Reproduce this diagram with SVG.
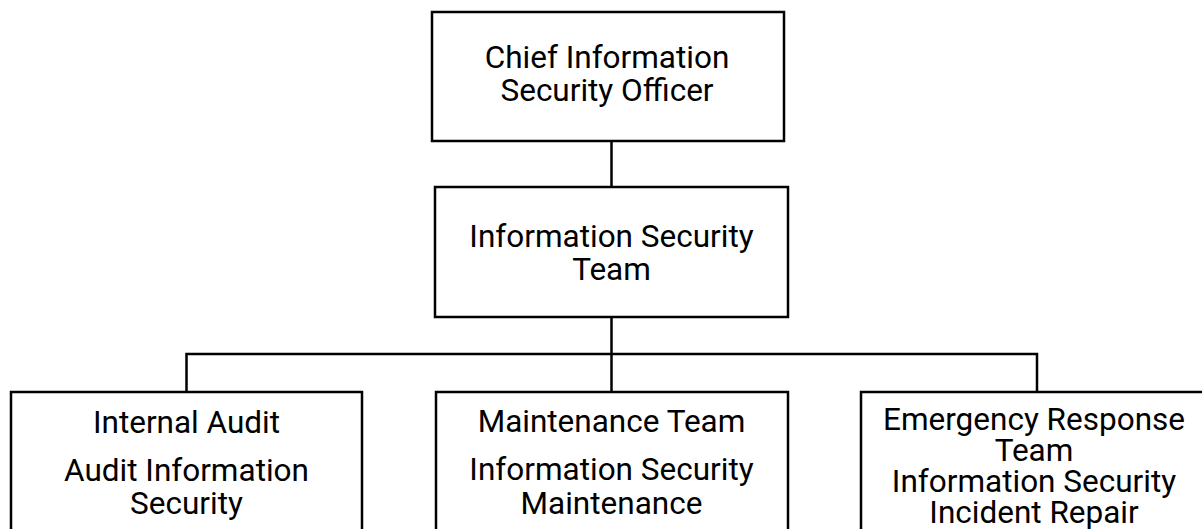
<svg xmlns="http://www.w3.org/2000/svg" width="1202" height="529" viewBox="0 0 1202 529">
  <style>
    .box { fill: #ffffff; stroke: #000000; stroke-width: 2.5; }
    .link { fill: none; stroke: #000000; stroke-width: 2.5; }
    text { font-family: Roboto, "Liberation Sans", sans-serif; font-size: 31.5px; fill: #000000; text-anchor: middle; }
  </style>
  <rect width="1202" height="529" fill="#ffffff"/>

  <!-- connectors -->
  <g id="connectors">
    <path class="link" d="M611.5 141 V187"/>
    <path class="link" d="M611.5 317 V354"/>
    <path class="link" d="M186.5 392 V354 H1037 V392"/>
    <path class="link" d="M611.5 354 V392"/>
  </g>

  <!-- top: CISO -->
  <g id="ciso">
    <rect class="box" x="432" y="12" width="352" height="129"/>
    <text x="607" y="68">Chief Information</text>
    <text x="607" y="101">Security Officer</text>
  </g>

  <!-- information security team -->
  <g id="infosec-team">
    <rect class="box" x="435" y="187" width="353" height="130"/>
    <text x="611.5" y="247">Information Security</text>
    <text x="611.5" y="280">Team</text>
  </g>

  <!-- internal audit -->
  <g id="internal-audit">
    <rect class="box" x="11" y="392" width="351" height="150"/>
    <text x="186.5" y="433">Internal Audit</text>
    <text x="186.5" y="481">Audit Information</text>
    <text x="186.5" y="514">Security</text>
  </g>

  <!-- maintenance team -->
  <g id="maintenance-team">
    <rect class="box" x="436" y="392" width="352" height="150"/>
    <text x="611.5" y="432">Maintenance Team</text>
    <text x="611.5" y="480">Information Security</text>
    <text x="611.5" y="514">Maintenance</text>
  </g>

  <!-- emergency response team -->
  <g id="emergency-response">
    <rect class="box" x="861" y="392" width="352" height="150"/>
    <text x="1034" y="430">Emergency Response</text>
    <text x="1034" y="461">Team</text>
    <text x="1034" y="492">Information Security</text>
    <text x="1034" y="523">Incident Repair</text>
  </g>
</svg>
